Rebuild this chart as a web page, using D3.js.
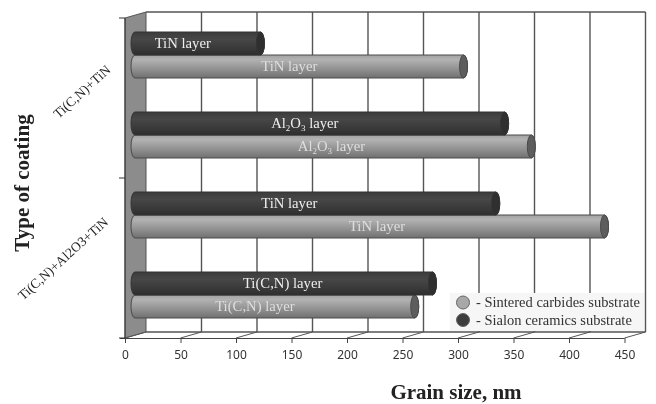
<!DOCTYPE html>
<html><head><meta charset="utf-8"><script src="https://cdnjs.cloudflare.com/ajax/libs/d3/7.8.5/d3.min.js"></script>
<style>html,body{margin:0;padding:0;background:#fff}svg{display:block;filter:blur(.4px)}</style></head>
<body><svg id="c" width="656" height="404"></svg>
<script>
const rows=["a","b","c","d"];
const sialon=[113,333,325,268];
const carbide=[296,357,423,252];
const sialonLabels=["TiN layer","Al2O3 layer","TiN layer","Ti(C,N) layer"];
const carbideLabels=["TiN layer","Al2O3 layer","TiN layer","Ti(C,N) layer"];
const sialonLabelAt=[43,153,139,133];
const carbideLabelAt=[139,177,218,108];
const xTicks=[0,50,100,150,200,250,300,350,400,450];
const groupLabels=["Ti(C,N)+TiN","Ti(C,N)+Al2O3+TiN"];
const legendLabels=["- Sintered carbides substrate","- Sialon ceramics substrate"];

const svg=d3.select("#c");
const x=d3.scaleLinear().domain([0,450]).range([125,624.5]);
const y=d3.scaleBand().domain(rows).range([18,338]).paddingInner(.425).paddingOuter(.2125);
const dx=21,dy=-6,barDx=10,barDy=-3,capRx=4;
const bw=y.bandwidth()/2;
const defs=svg.append("defs");
function grad(id,stops){const g=defs.append("linearGradient").attr("id",id).attr("x1",0).attr("y1",0).attr("x2",0).attr("y2",1);
 stops.forEach(s=>g.append("stop").attr("offset",s[0]).attr("stop-color",s[1]));}
grad("lt",[[0,"#a2a2a2"],[.2,"#b2b2b2"],[.55,"#969696"],[1,"#707070"]]);
grad("dk",[[0,"#3c3c3c"],[.3,"#474747"],[.7,"#3a3a3a"],[1,"#2e2e2e"]]);
const ink="#555";
// wall
const yTop=18,yBot=338,x0=x(0),xEnd=x(450);
svg.append("path").attr("d",`M${x0},${yTop}L${x0+dx},${yTop+dy}V${yBot+dy}L${x0},${yBot}Z`).attr("fill","#8c8c8c").attr("stroke",ink).attr("stroke-width",1);
// back grid
svg.append("g").selectAll("line").data(xTicks.slice(1)).join("line")
 .attr("x1",d=>x(d)+dx).attr("x2",d=>x(d)+dx).attr("y1",yTop+dy).attr("y2",yBot+dy)
 .attr("stroke",ink).attr("stroke-width",1.4);
svg.append("line").attr("x1",x0+dx).attr("x2",xEnd+dx).attr("y1",yTop+dy).attr("y2",yTop+dy).attr("stroke",ink).attr("stroke-width",1.4);
svg.append("line").attr("x1",x0+dx).attr("x2",xEnd+dx).attr("y1",yBot+dy).attr("y2",yBot+dy).attr("stroke",ink).attr("stroke-width",1.4);
// floor ticks
svg.append("g").selectAll("line").data(xTicks).join("line")
 .attr("x1",d=>x(d)).attr("x2",d=>x(d)+dx).attr("y1",yBot).attr("y2",yBot+dy).attr("stroke",ink);
// front axes
const gx=svg.append("g").attr("transform",`translate(0,${yBot})`).call(d3.axisBottom(x).tickValues(xTicks).tickSize(5).tickSizeOuter(0).tickPadding(7));
gx.selectAll("path,line").attr("stroke","#444");
gx.selectAll("text").attr("font-family","'Noto Sans'").attr("font-size",12).attr("fill","#333");
gx.select(".domain").attr("d",`M${x0-5},0.5H${xEnd}`);
const gy=svg.append("g");
[yTop,(yTop+yBot)/2,yBot].forEach(v=>gy.append("line").attr("x1",x0-6).attr("x2",x0).attr("y1",v).attr("y2",v).attr("stroke","#333"));
gy.append("line").attr("x1",x0).attr("x2",x0).attr("y1",yTop).attr("y2",yBot).attr("stroke","#333");

function rich(sel,s){
 const m=s.match(/^(.*?)(Al)2O3(.*)$/);
 if(!m){sel.text(s);return;}
 sel.append("tspan").text(m[1]+"Al");
 sel.append("tspan").attr("font-size",9).attr("dy",3).text("2");
 sel.append("tspan").attr("dy",-3).text("O");
 sel.append("tspan").attr("font-size",9).attr("dy",3).text("3");
 sel.append("tspan").attr("dy",-3).text(m[3]);
}
function bars(vals,labels,at,off,fill,capFill,stroke,txt){
 rows.forEach((r,i)=>{
  const g=svg.append("g");
  const yt=y(r)+barDy+off,xs=x(0)+barDx,xe=x(vals[i])+barDx;
  g.append("path").attr("d",`M${xs},${yt}H${xe}A${capRx},${bw/2} 0 0 1 ${xe},${yt+bw}H${xs}A${capRx},${bw/2} 0 0 1 ${xs},${yt}Z`)
   .attr("fill",`url(#${fill})`).attr("stroke",stroke).attr("stroke-width",1);
  g.append("ellipse").attr("cx",xe).attr("cy",yt+bw/2).attr("rx",capRx).attr("ry",bw/2).attr("fill",capFill).attr("stroke",stroke);
  const t=g.append("text").attr("x",x(at[i])+barDx).attr("y",yt+bw/2+4.5).attr("text-anchor","middle")
   .attr("font-family","'Liberation Serif'").attr("font-size",14.7).attr("fill",txt);
  rich(t,labels[i]);
 });
}
// carbide drawn first, sialon over
bars(carbide,carbideLabels,carbideLabelAt,bw,"lt","#5d5d5d","#4a4a4a","#dedede");
bars(sialon,sialonLabels,sialonLabelAt,0,"dk","#2f2f2f","#333","#eeeeee");
// legend
svg.append("rect").attr("x",450).attr("y",293).attr("width",194).attr("height",38).attr("fill","#f6f6f6");
const lg=[["#a8a8a8"],["#3d3d3d"]];
legendLabels.forEach((s,i)=>{
 const cy=302.5+i*17.5;
 svg.append("circle").attr("cx",463).attr("cy",cy).attr("r",6.5).attr("fill",lg[i][0]).attr("stroke","#666");
 svg.append("text").attr("x",476).attr("y",cy+4.5).attr("font-family","'Liberation Serif'").attr("font-size",14.5).attr("fill","#333").text(s);
});
// titles
svg.append("text").attr("transform","translate(29,183) rotate(-90)").attr("text-anchor","middle").attr("font-family","'Liberation Serif'").attr("font-weight","bold").attr("font-size",21).attr("fill","#222").text("Type of coating");
svg.append("text").attr("x",456).attr("y",399).attr("text-anchor","middle").attr("font-family","'Liberation Serif'").attr("font-weight","bold").attr("font-size",21).attr("fill","#222").text("Grain size, nm");
svg.append("text").attr("transform","translate(85,95) rotate(-42)").attr("text-anchor","middle").attr("font-family","'Liberation Serif'").attr("font-size",13.5).attr("fill","#222").text(groupLabels[0]);
svg.append("text").attr("transform","translate(66,262) rotate(-42)").attr("text-anchor","middle").attr("font-family","'Liberation Serif'").attr("font-size",13.5).attr("fill","#222").text(groupLabels[1]);
</script></body></html>
